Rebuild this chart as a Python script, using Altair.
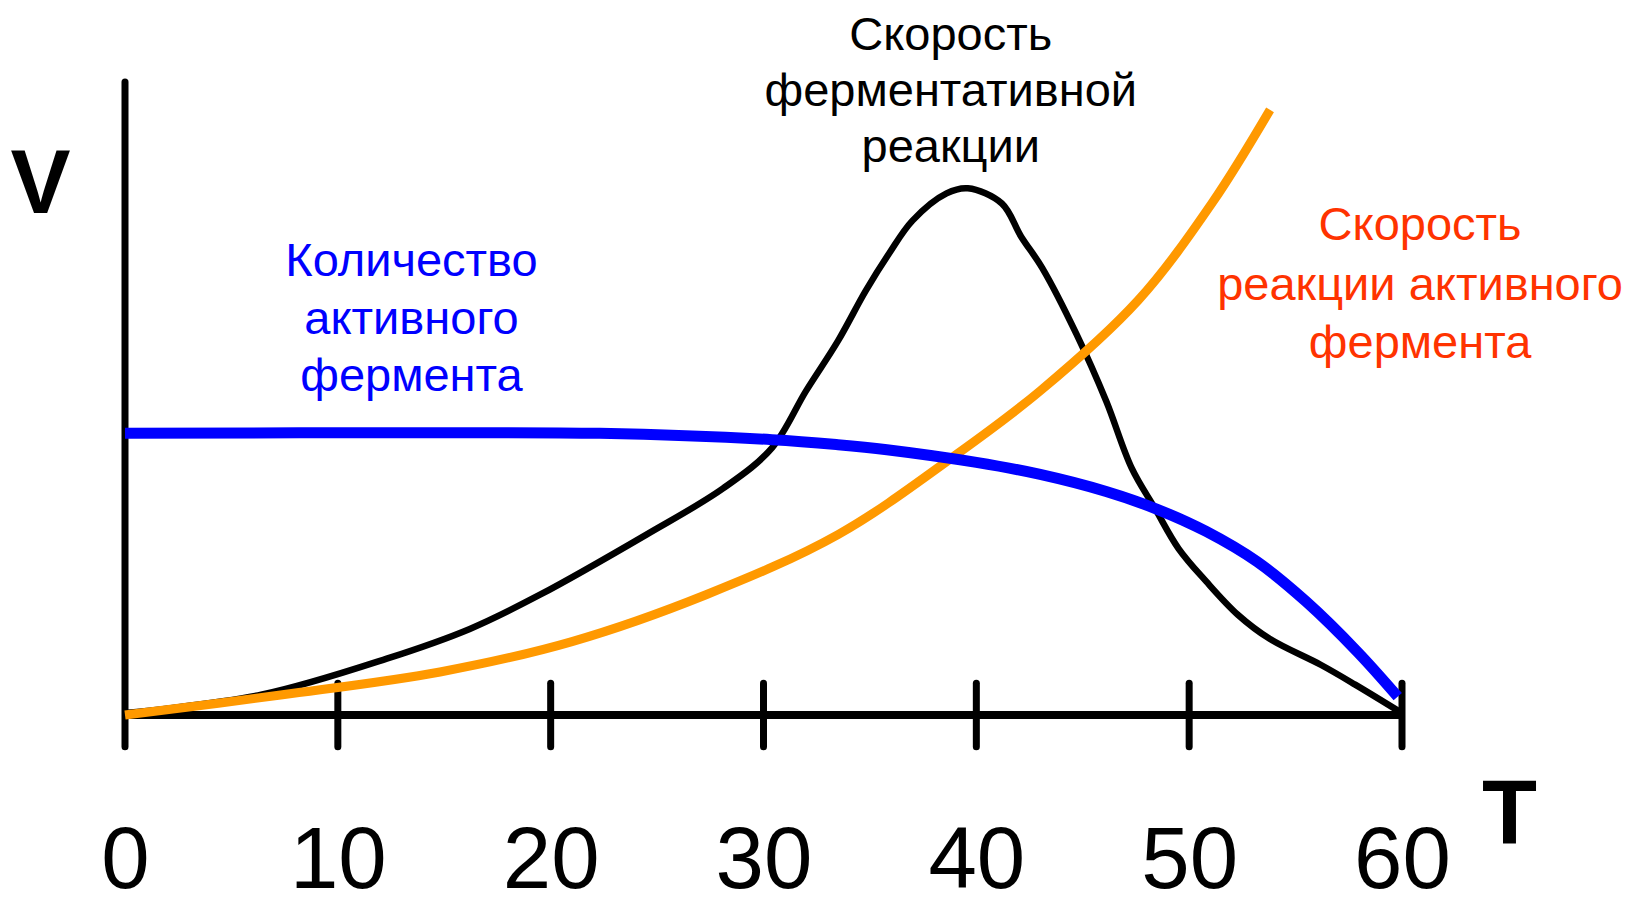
import altair as alt
import pandas as pd

# ---- data ----
ticks_T = [0, 10, 20, 30, 40, 50, 60]

black_T = [0, 6.4, 12.3, 16.2, 19.5, 24.5, 28.1, 30.4, 32.0, 33.5, 34.8, 35.9, 37.0, 38.6,
           39.6, 41.2, 42.1, 43.1, 44.7, 46.1, 47.3, 48.4, 49.5, 50.8, 52.3, 53.8, 56.2,
           57.8, 60]
black_V = [0.3, 3.2, 8.9, 13.6, 19.0, 28.5, 35.8, 42.2, 51.2, 59.1, 67.0, 72.9, 78.1, 82.4,
           83.2, 80.8, 75.6, 70.6, 60.2, 49.6, 39.0, 32.6, 26.3, 21.1, 15.8, 12.0, 7.9,
           4.8, 0.3]

orange_T = [0, 7.4, 14.8, 21.0, 27.3, 33.5, 39.0, 43.0, 47.6, 51.1, 53.8]
orange_V = [0, 3.2, 6.8, 11.6, 19.0, 28.5, 41.0, 51.2, 65.5, 81.0, 95.6]

blue_T = [0, 14.8, 22.3, 30.4, 33.5, 35.8, 40.0, 43.0, 46.1, 48.5, 50.8, 53.2, 55.5, 57.9, 59.8]
blue_V = [44.5, 44.6, 44.5, 43.5, 42.7, 41.9, 39.9, 38.0, 35.3, 32.5, 29.0, 24.2, 17.9, 10.0, 2.9]

black_label = ["Скорость", "ферментативной", "реакции"]
black_label_T = [38.8, 38.8, 38.8]
black_label_V = [105.0, 96.2, 87.3]

blue_label = ["Количество", "активного", "фермента"]
blue_label_T = [13.46, 13.46, 13.46]
blue_label_V = [69.4, 60.2, 51.2]

red_label = ["Скорость", "реакции активного", "фермента"]
red_label_T = [60.85, 60.85, 60.85]
red_label_V = [75.0, 65.5, 56.4]

FONT = "Liberation Sans, Arial, Helvetica, sans-serif"

xs = alt.Scale(domain=[0, 60], nice=False, zero=False)
ys = alt.Scale(domain=[0, 100], nice=False, zero=False)

x_axis = alt.Axis(values=ticks_T, domain=False, ticks=False, tickSize=0, grid=False,
                  labelFontSize=87, labelFont=FONT, labelColor="black",
                  labelBaseline="alphabetic", labelPadding=172, labelFlush=False,
                  labelOverlap=False, labelAngle=0, labelBound=False,
                  title="T", titleFont=FONT, titleFontSize=90, titleFontWeight="bold",
                  titleColor="black", titleX=1384, titleY=128, titleAlign="center",
                  titleBaseline="alphabetic", titleAngle=0)
y_axis = alt.Axis(domain=False, ticks=False, labels=False, grid=False,
                  title="V", titleFont=FONT, titleFontSize=90, titleFontWeight="bold",
                  titleColor="black", titleX=-85, titleY=130, titleAlign="center",
                  titleBaseline="alphabetic", titleAngle=0)


def X(field="T"):
    return alt.X(f"{field}:Q", scale=xs, axis=x_axis)


def Y(field="V"):
    return alt.Y(f"{field}:Q", scale=ys, axis=y_axis)


# axis lines
yaxis_df = pd.DataFrame({"T": [0], "V": [-5], "V2": [100]})
xaxis_df = pd.DataFrame({"T": [0], "T2": [60], "V": [0]})
tick_df = pd.DataFrame({"T": ticks_T[1:], "V": [-5] * 6, "V2": [5] * 6})

yaxis_line = alt.Chart(yaxis_df).mark_rule(color="black", strokeWidth=7, strokeCap="round").encode(
    x=X(), y=Y(), y2="V2:Q")
xaxis_line = alt.Chart(xaxis_df).mark_rule(color="black", strokeWidth=8, strokeCap="butt").encode(
    x=X(), x2="T2:Q", y=Y())
tick_lines = alt.Chart(tick_df).mark_rule(color="black", strokeWidth=7, strokeCap="round").encode(
    x=X(), y=Y(), y2="V2:Q")


def curve(T, V, color, width):
    df = pd.DataFrame({"T": T, "V": V, "i": list(range(len(T)))})
    return alt.Chart(df).mark_line(color=color, strokeWidth=width, interpolate="catmull-rom",
                                   strokeCap="butt", strokeJoin="round").encode(
        x=X(), y=Y(), order="i:Q")


black_curve = curve(black_T, black_V, "black", 6.5)
orange_curve = curve(orange_T, orange_V, "#FF9900", 9)
blue_curve = curve(blue_T, blue_V, "#0000FF", 11)


def label(texts, T, V, color):
    df = pd.DataFrame({"T": T, "V": V, "text": texts})
    return alt.Chart(df).mark_text(font=FONT, fontSize=47, color=color, align="center",
                                   baseline="alphabetic").encode(
        x=X(), y=Y(), text="text:N")


chart = alt.layer(
    yaxis_line, xaxis_line, tick_lines,
    black_curve, orange_curve, blue_curve,
    label(black_label, black_label_T, black_label_V, "black"),
    label(blue_label, blue_label_T, blue_label_V, "#0000FF"),
    label(red_label, red_label_T, red_label_V, "#FF3300"),
).properties(
    width=1277, height=633,
    padding={"left": 117, "top": 74, "right": 227, "bottom": 177},
    autosize=alt.AutoSizeParams(type="none"),
    background="white",
).configure_view(stroke=None)

chart.save("out.html", embed_options={"renderer": "svg", "actions": False})
